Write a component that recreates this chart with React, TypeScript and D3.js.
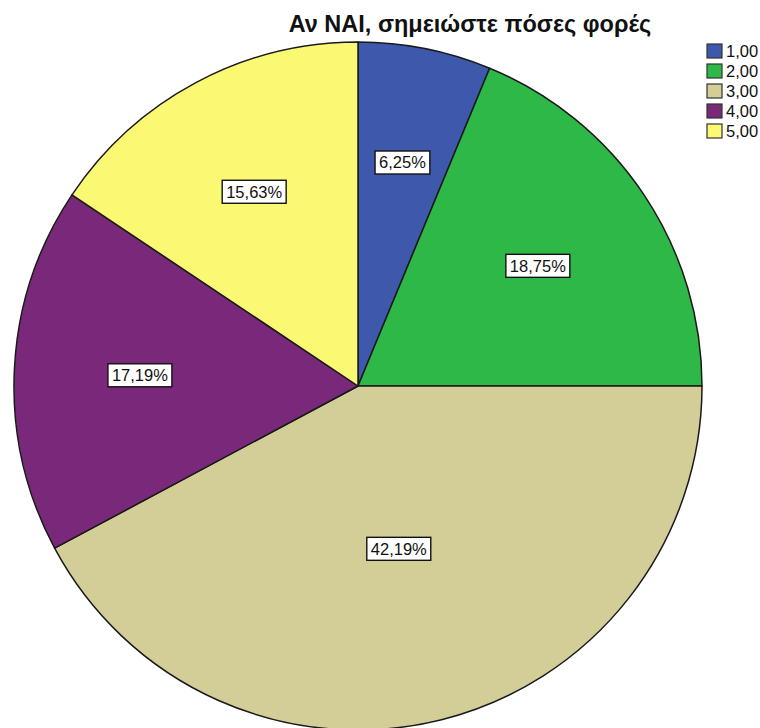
import React, { useEffect, useRef } from "react";
import * as d3 from "d3";

const title = "Αν ΝΑΙ, σημειώστε πόσες φορές";
const categories = ["1,00", "2,00", "3,00", "4,00", "5,00"];
const counts = [4, 12, 27, 11, 10];
const colors = ["#3e58ac", "#2eb848", "#d3ce97", "#7a287a", "#fbf873"];

export default function App() {
  const ref = useRef<SVGSVGElement | null>(null);

  useEffect(() => {
    const svg = d3.select(ref.current);
    svg.selectAll("*").remove();
    const W = 760, H = 728;
    const cx = 358, cy = 386, r = 344;
    const font = "'Liberation Sans', Arial, sans-serif";

    svg.append("text")
      .attr("x", 470).attr("y", 32)
      .attr("text-anchor", "middle")
      .attr("font-family", font)
      .attr("font-size", 23.5)
      .attr("font-weight", "bold")
      .attr("fill", "#111")
      .text(title);

    const total = d3.sum(counts);
    const pie = d3.pie<number>().sort(null).value((d) => d);
    const arcs = pie(counts);
    const arc = d3.arc<d3.PieArcDatum<number>>().innerRadius(0).outerRadius(r);

    const g = svg.append("g").attr("transform", `translate(${cx},${cy})`);
    g.selectAll("path.slice")
      .data(arcs)
      .enter()
      .append("path")
      .attr("class", "slice")
      .attr("d", arc as any)
      .attr("fill", (_, i) => colors[i])
      .attr("stroke", "#1a1a1a")
      .attr("stroke-width", 1.5)
      .attr("stroke-linejoin", "round");

    const fmt = (v: number) => (v * 100).toFixed(2).replace(".", ",") + "%";

    arcs.forEach((a) => {
      const alpha = a.endAngle - a.startAngle;
      const mid = (a.startAngle + a.endAngle) / 2;
      const dist = (4 * r * Math.sin(alpha / 2)) / (3 * alpha);
      const x = dist * Math.sin(mid);
      const y = -dist * Math.cos(mid);
      const lg = g.append("g").attr("transform", `translate(${x},${y})`);
      const rect = lg.append("rect").attr("fill", "#fff").attr("stroke", "#111").attr("stroke-width", 1.4);
      const t = lg.append("text")
        .attr("text-anchor", "middle")
        .attr("dy", "0.36em")
        .attr("font-family", font)
        .attr("font-size", 16.5)
        .attr("fill", "#111")
        .text(fmt(a.data / total));
      const w = (t.node() as SVGTextElement).getComputedTextLength();
      rect.attr("x", -w / 2 - 4).attr("y", -11.5).attr("width", w + 8).attr("height", 23);
    });

    const leg = svg.append("g").attr("transform", "translate(707,44)");
    categories.forEach((c, i) => {
      const row = leg.append("g").attr("transform", `translate(0,${i * 20})`);
      row.append("rect")
        .attr("width", 15).attr("height", 14)
        .attr("fill", colors[i])
        .attr("stroke", "#333").attr("stroke-width", 1.2);
      row.append("text")
        .attr("x", 19).attr("y", 7).attr("dy", "0.36em")
        .attr("font-family", font)
        .attr("font-size", 16.5)
        .attr("fill", "#111")
        .text(c);
    });
    svg.attr("width", W).attr("height", H);
  }, []);

  return (
    <svg
      ref={ref}
      width={760}
      height={728}
      style={{ position: "absolute", left: 0, top: 0, background: "#fff" }}
    />
  );
}
